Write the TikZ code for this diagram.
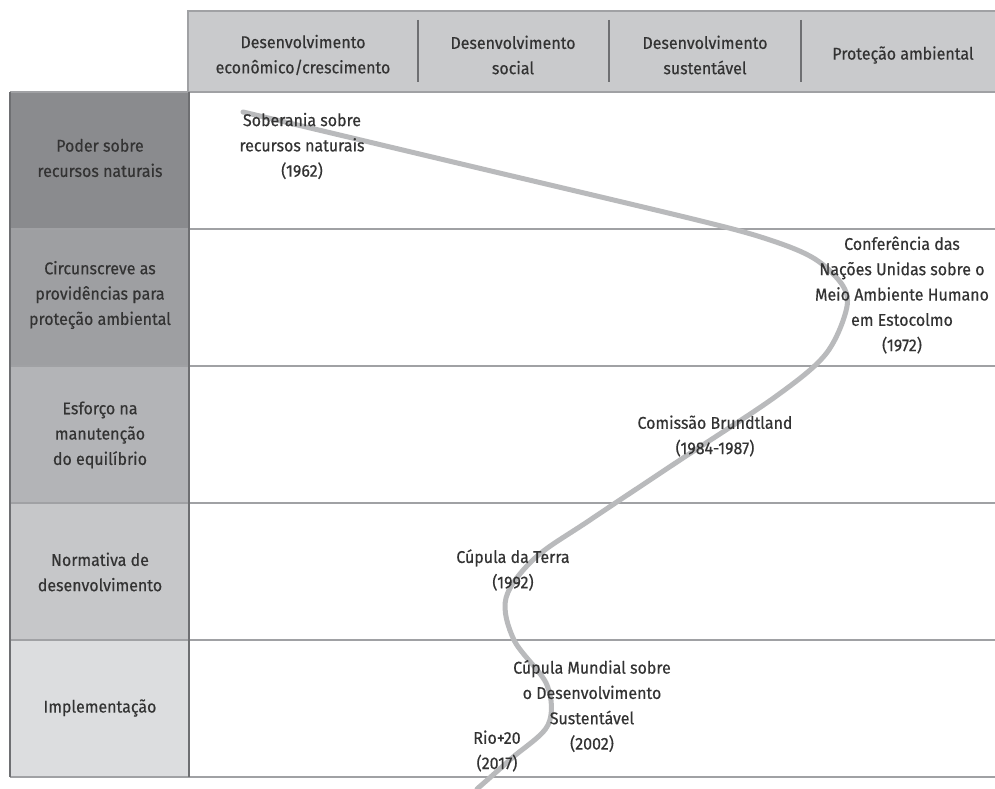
\documentclass[tikz,border=0pt]{standalone}
\usepackage{fontspec}
\setmainfont{Fira Sans}[FakeStretch=0.94, FakeBold=0.4]
\definecolor{txt}{HTML}{333333}
\definecolor{hdr}{HTML}{C9CACC}
\definecolor{rowa}{HTML}{8A8B8E}
\definecolor{rowb}{HTML}{9E9FA2}
\definecolor{rowc}{HTML}{B3B4B7}
\definecolor{rowd}{HTML}{C6C7C9}
\definecolor{rowe}{HTML}{DCDDDF}
\definecolor{edge}{HTML}{6E6F72}
\definecolor{grid}{HTML}{A0A1A4}
\definecolor{curve}{HTML}{B9BABC}
\begin{document}
\begin{tikzpicture}[x=1pt,y=-1pt,
  lbl/.style={font=\fontsize{17}{25.3}\selectfont, text=txt, align=center, inner sep=0pt},
  cellborder/.style={draw=edge, line width=1.4pt},
  gridline/.style={draw=grid, line width=1.4pt},
  sepline/.style={draw=edge, line width=1.4pt},
  pathline/.style={draw=curve, line width=5pt, line cap=round}]
\useasboundingbox (0,0) rectangle (995,789);
\fill[white] (0,0) rectangle (995,789);
% header
\fill[hdr] (188,11) rectangle (996,92);
\draw[gridline] (188,92) -- (188,11) -- (996,11);
\draw[sepline] (418,20) -- (418,82);
\draw[sepline] (609,20) -- (609,82);
\draw[sepline] (801,20) -- (801,82);
% left column
\fill[rowa] (10,92) rectangle (189,229);
\fill[rowb] (10,229) rectangle (189,366);
\fill[rowc] (10,366) rectangle (189,503);
\fill[rowd] (10,503) rectangle (189,640);
\fill[rowe] (10,640) rectangle (189,777);
% grid lines
\foreach \yy in {92,229,366,503,640,777} \draw[gridline] (10,\yy) -- (996,\yy);
\draw[cellborder] (10,92) -- (10,777);
\draw[cellborder] (189,92) -- (189,777);
% curve
\draw[pathline] plot[smooth, tension=0.55] coordinates {
 (243,112) (470,166) (697,220) (770,240) (815,259) (843,286) (846,311)
 (825,355) (775,397) (680,460) (590,520) (535,558) (506,598) (514,640)
 (547,685) (548,725) (512,758) (477,789)};
% header labels
\node[lbl] (h1) at (303,55) {Desenvolvimento\\econômico/crescimento};
\node[lbl] (h2) at (513,55) {Desenvolvimento\\social};
\node[lbl] (h3) at (705,55) {Desenvolvimento\\sustentável};
\node[lbl] (h4) at (903,55) {Proteção ambiental};
% row labels
\node[lbl] (r1) at (100,158) {Poder sobre\\recursos naturais};
\node[lbl] (r2) at (100,295) {Circunscreve as\\providências para\\proteção ambiental};
\node[lbl] (r3) at (100,435) {Esforço na\\manutenção\\do equilíbrio};
\node[lbl] (r4) at (100,572) {Normativa de\\desenvolvimento};
\node[lbl] (r5) at (100,708) {Implementação};
% events
\node[lbl] (e1) at (302,146) {Soberania sobre\\recursos naturais\\(1962)};
\node[lbl] (e2) at (902,295) {Conferência das\\Nações Unidas sobre o\\Meio Ambiente Humano\\em Estocolmo\\(1972)};
\node[lbl] (e3) at (715,436) {Comissão Brundtland\\(1984-1987)};
\node[lbl] (e4) at (513,570) {Cúpula da Terra\\(1992)};
\node[lbl] (e5) at (592,706) {Cúpula Mundial sobre\\o Desenvolvimento\\Sustentável\\(2002)};
\node[lbl] (e6) at (497,751) {Rio+20\\(2017)};
\end{tikzpicture}
\end{document}
